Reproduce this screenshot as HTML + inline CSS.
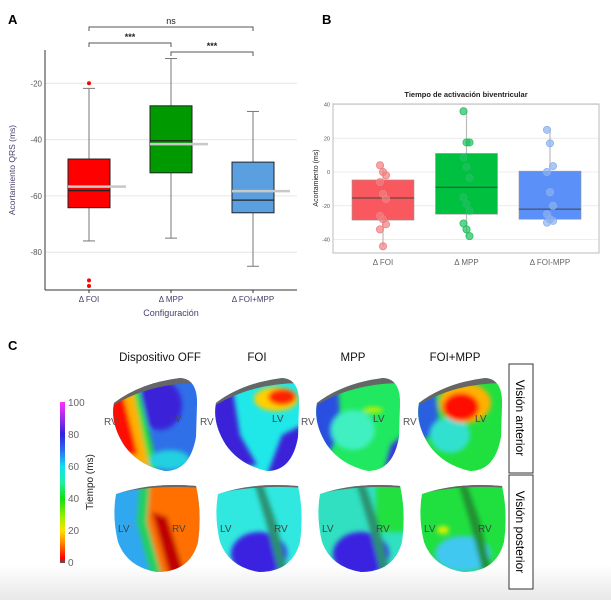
<!DOCTYPE html>
<html><head><meta charset="utf-8">
<style>
body{margin:0;width:611px;height:600px;overflow:hidden;background:#fff;font-family:"Liberation Sans",sans-serif;}
svg{position:absolute;left:0;top:0;}
</style></head>
<body>
<svg id="fig" width="611" height="600" viewBox="0 0 611 600" xmlns="http://www.w3.org/2000/svg">
<defs>
<linearGradient id="bottomfade" x1="0" y1="0" x2="0" y2="1"><stop offset="0" stop-color="#fff"/><stop offset="1" stop-color="#e8e8e8"/></linearGradient>
<linearGradient id="cbar" x1="0" y1="0" x2="0" y2="1">
<stop offset="0" stop-color="#ff30ff"/><stop offset="0.12" stop-color="#8a2be2"/><stop offset="0.2" stop-color="#3020e0"/><stop offset="0.3" stop-color="#2a6cf0"/><stop offset="0.4" stop-color="#10e0f0"/><stop offset="0.5" stop-color="#20f0a0"/><stop offset="0.6" stop-color="#10e010"/><stop offset="0.72" stop-color="#a0f000"/><stop offset="0.8" stop-color="#ffe000"/><stop offset="0.88" stop-color="#ff8000"/><stop offset="0.97" stop-color="#ff0000"/><stop offset="1" stop-color="#555"/>
</linearGradient>
<filter id="blur2"><feGaussianBlur stdDeviation="2.5"/></filter>
<clipPath id="hA"><path d="M4,28 Q30,8 70,3 Q88,4 87,30 L86,62 Q80,96 55,96 Q28,90 14,70 Q0,48 4,28 Z"/></clipPath>
<clipPath id="hP"><path d="M4,12 Q40,0 84,4 Q90,30 86,60 Q78,90 45,90 Q15,85 6,60 Q0,35 4,12 Z"/></clipPath>
</defs>
<rect x="0" y="565" width="611" height="35" fill="url(#bottomfade)"/>

<text x="8" y="24" font-size="13" font-weight="bold">A</text>
<text x="322" y="24" font-size="13" font-weight="bold">B</text>
<text x="8" y="350" font-size="13" font-weight="bold">C</text>

<g id="chartA"></g>
<g id="chartB"></g>

<!-- Panel C -->
<g font-size="11.5" text-anchor="middle" fill="#111">
<text x="160" y="361">Dispositivo OFF</text>
<text x="257" y="361">FOI</text>
<text x="353" y="361">MPP</text>
<text x="455" y="361">FOI+MPP</text>
</g>
<g>
<rect x="60" y="402" width="5" height="161" fill="url(#cbar)"/>
<g font-size="10" fill="#666">
<text x="68" y="406">100</text><text x="68" y="438">80</text><text x="68" y="470">60</text><text x="68" y="502">40</text><text x="68" y="534">20</text><text x="68" y="566">0</text>
</g>
<text transform="translate(93,482) rotate(-90)" font-size="10" text-anchor="middle" fill="#222">Tiempo (ms)</text>
</g>
<g>
<rect x="509" y="364" width="24" height="109" fill="#fff" stroke="#333"/>
<text transform="translate(516,418) rotate(90)" font-size="12" text-anchor="middle">Visión anterior</text>
<rect x="509" y="475" width="24" height="114" fill="#fff" stroke="#333"/>
<text transform="translate(516,532) rotate(90)" font-size="12" text-anchor="middle">Visión posterior</text>
</g>

<!-- anterior hearts -->
<g transform="translate(110,375)">
<g clip-path="url(#hA)"><rect width="90" height="100" fill="#2f70e8"/>
<g filter="url(#blur2)"><ellipse cx="50" cy="30" rx="22" ry="25" fill="#3a20d8"/><path d="M0,20 L22,10 L40,95 L0,95Z" fill="#ffb000"/><path d="M0,20 L12,15 L28,80 L0,80Z" fill="#ff1000"/><path d="M22,10 L28,10 L48,95 L40,95Z" fill="#20e040"/><ellipse cx="60" cy="85" rx="20" ry="10" fill="#20d0e0"/></g>
<path d="M0,0 L90,0 L90,8 Q40,8 4,30Z" fill="#666"/></g>
<text x="-6" y="50" font-size="10" fill="#555">RV</text><text x="60" y="47" font-size="10" fill="#444">LV</text></g>
<g transform="translate(212,375)">
<g clip-path="url(#hA)"><rect width="90" height="100" fill="#20e8e8"/>
<g filter="url(#blur2)"><path d="M0,20 L20,10 L28,60 L45,90 L0,95Z" fill="#3a20d8"/><path d="M70,60 L90,50 L90,100 L55,100Z" fill="#3a20d8"/><ellipse cx="64" cy="24" rx="22" ry="12" fill="#ffd000"/><ellipse cx="70" cy="22" rx="14" ry="8" fill="#ff2000"/></g>
<path d="M0,0 L90,0 L90,8 Q40,8 4,30Z" fill="#666"/></g>
<text x="-12" y="50" font-size="10" fill="#555">RV</text><text x="60" y="47" font-size="10" fill="#444">LV</text></g>
<g transform="translate(313,375)">
<g clip-path="url(#hA)"><rect width="90" height="100" fill="#20e860"/>
<g filter="url(#blur2)"><path d="M0,20 L25,12 L28,55 L15,80 L0,80Z" fill="#2a50e0"/><ellipse cx="40" cy="55" rx="22" ry="20" fill="#40f0c0"/><path d="M78,70 L90,60 L90,100 L70,100Z" fill="#3a30e0"/><ellipse cx="60" cy="35" rx="10" ry="3" fill="#c0f000"/></g>
<path d="M0,0 L90,0 L90,8 Q40,8 4,30Z" fill="#666"/></g>
<text x="-12" y="50" font-size="10" fill="#555">RV</text><text x="60" y="47" font-size="10" fill="#444">LV</text></g>
<g transform="translate(415,375)">
<g clip-path="url(#hA)"><rect width="90" height="100" fill="#20e040"/>
<g filter="url(#blur2)"><path d="M0,25 L20,15 L25,55 L0,70Z" fill="#2a60e0"/><ellipse cx="35" cy="60" rx="20" ry="18" fill="#30e0d0"/><ellipse cx="50" cy="28" rx="26" ry="20" fill="#ffb000"/><ellipse cx="46" cy="32" rx="18" ry="14" fill="#ff1000"/></g>
<path d="M0,0 L90,0 L90,8 Q40,8 4,30Z" fill="#666"/></g>
<text x="-12" y="50" font-size="10" fill="#555">RV</text><text x="60" y="47" font-size="10" fill="#444">LV</text></g>

<!-- posterior hearts -->
<g transform="translate(112,482)">
<g clip-path="url(#hP)"><rect width="90" height="95" fill="#30a8f0"/>
<g filter="url(#blur2)"><path d="M38,0 L90,0 L90,95 L50,95 L35,40Z" fill="#ff7000"/><path d="M40,30 L55,35 L72,90 L58,95Z" fill="#c00000"/><path d="M28,0 L38,0 L35,40 L50,95 L40,95 L25,40Z" fill="#20d060"/></g>
<path d="M0,0 L90,0 L90,6 Q45,2 0,12Z" fill="#666"/></g>
<text x="6" y="50" font-size="10" fill="#444">LV</text><text x="60" y="50" font-size="10" fill="#444">RV</text></g>
<g transform="translate(214,482)">
<g clip-path="url(#hP)"><rect width="90" height="95" fill="#30e8e0"/>
<g filter="url(#blur2)"><ellipse cx="45" cy="72" rx="28" ry="22" fill="#3a20e0"/><path d="M40,0 L48,0 L62,40 L75,95 L66,95 L52,40Z" fill="#2a9070"/></g>
<path d="M0,0 L90,0 L90,6 Q45,2 0,12Z" fill="#666"/></g>
<text x="6" y="50" font-size="10" fill="#444">LV</text><text x="60" y="50" font-size="10" fill="#444">RV</text></g>
<g transform="translate(316,482)">
<g clip-path="url(#hP)"><rect width="90" height="95" fill="#30e0c0"/>
<g filter="url(#blur2)"><rect x="60" y="0" width="30" height="50" fill="#20e040"/><ellipse cx="45" cy="72" rx="28" ry="22" fill="#3a20e0"/><path d="M40,0 L48,0 L62,40 L75,95 L66,95 L52,40Z" fill="#2a9070"/></g>
<path d="M0,0 L90,0 L90,6 Q45,2 0,12Z" fill="#666"/></g>
<text x="6" y="50" font-size="10" fill="#444">LV</text><text x="60" y="50" font-size="10" fill="#444">RV</text></g>
<g transform="translate(418,482)">
<g clip-path="url(#hP)"><rect width="90" height="95" fill="#20e040"/>
<g filter="url(#blur2)"><ellipse cx="45" cy="72" rx="28" ry="18" fill="#40c8f0"/><path d="M40,0 L48,0 L62,40 L75,95 L66,95 L52,40Z" fill="#209030"/><ellipse cx="25" cy="48" rx="6" ry="4" fill="#e0f000"/></g>
<path d="M0,0 L90,0 L90,6 Q45,2 0,12Z" fill="#666"/></g>
<text x="6" y="50" font-size="10" fill="#444">LV</text><text x="60" y="50" font-size="10" fill="#444">RV</text></g>
</svg>
<script>
// ---------- Panel A data ----------
var catsA = ["Δ FOI","Δ MPP","Δ FOI+MPP"];
var q1A = [-64.2,-51.8,-66];
var q3A = [-46.9,-28,-48];
var medA = [-58.1,-40.4,-61.5];
var meanA = [-56.7,-41.6,-58.3];
var whiskLoA = [-76,-75,-85];
var whiskHiA = [-21.8,-11.2,-30];
var outliersA = [[-20,-90,-92],[],[]];
var ticksA = [-20,-40,-60,-80];
var colorsA = ["#ff0000","#009900","#5aa0e0"];
// ---------- Panel B data ----------
var catsB = ["Δ FOI","Δ MPP","Δ FOI-MPP"];
var q1B = [-28.5,-25,-28];
var q3B = [-4.7,11,0.5];
var medB = [-15.4,-9,-22];
var whiskLoB = [-44,-38,-30];
var whiskHiB = [4,36,25];
var ptsB = [[4,0,-2,-6,-13,-16,-26,-28,-31,-34,-44],[36,17.5,17.5,8.5,3,-3.5,-15,-19,-23,-30.5,-34,-38],[25,17,3.5,0,-12,-20,-25,-28,-29,-30]];
var ticksB = [40,20,0,-20,-40];
var colorsB = ["#f8585e","#00c040","#5a90f8"];
var ptColB = ["#f08080","#20c060","#8ab0f0"];

var NS="http://www.w3.org/2000/svg";
function mk(parent,tag,attrs,txt){var e=document.createElementNS(NS,tag);for(var k in attrs)e.setAttribute(k,attrs[k]);if(txt!==undefined)e.textContent=txt;parent.appendChild(e);return e;}

// Panel A
(function(){
var g=document.getElementById('chartA');
function yA(v){return 83.3+(-20-v)*2.815;}
function xA(i){return 89+i*82;}
var L=45,R=297,T=50,B=290;
ticksA.forEach(function(t){
 var gl=mk(g,'line',{x1:L,x2:R,y1:yA(t),y2:yA(t),stroke:'#e6e6e6','stroke-width':1});
 
 
 var tl=mk(g,'text',{x:L-3,y:yA(t)+3,'font-size':8,'text-anchor':'end',fill:'#555'},t);
 
 
});
mk(g,'line',{x1:L,x2:L,y1:T,y2:B,stroke:'#333','stroke-width':1});
mk(g,'line',{x1:L,x2:R,y1:B,y2:B,stroke:'#333','stroke-width':1});
catsA.forEach(function(c,i){
 var x=xA(i),w=42;
 var wh=mk(g,'line',{x1:x,x2:x,y1:yA(whiskHiA[i]),y2:yA(whiskLoA[i]),stroke:'#777','stroke-width':1});
 
 
 mk(g,'line',{x1:x-6,x2:x+6,y1:yA(whiskHiA[i]),y2:yA(whiskHiA[i]),stroke:'#777'});
 mk(g,'line',{x1:x-6,x2:x+6,y1:yA(whiskLoA[i]),y2:yA(whiskLoA[i]),stroke:'#777'});
 var bx=mk(g,'rect',{x:x-w/2,y:yA(q3A[i]),width:w,height:yA(q1A[i])-yA(q3A[i]),fill:colorsA[i],stroke:'#222','stroke-width':1});
 
 
 mk(g,'line',{x1:x-w/2,x2:x+w/2,y1:yA(medA[i]),y2:yA(medA[i]),stroke:'#222','stroke-width':1.3});
 var mn=mk(g,'line',{x1:x-w/2,x2:x+37,y1:yA(meanA[i]),y2:yA(meanA[i]),stroke:'#c8c8c8','stroke-width':2.5});
 
 
 outliersA[i].forEach(function(o){
  var p=mk(g,'circle',{cx:x,cy:yA(o),r:2,fill:'#ff0000'});
  
  
 });
 mk(g,'line',{x1:x,x2:x,y1:B,y2:B+3,stroke:'#333'});
 var xl=mk(g,'text',{x:x,y:B+12,'font-size':8,'text-anchor':'middle',fill:'#4a3d6a'},c);
 
 
});
var xt=mk(g,'text',{x:171,y:316,'font-size':9,'text-anchor':'middle',fill:'#4a3d6a'},'Configuración');


var yt=mk(g,'text',{transform:'translate(15,170) rotate(-90)','font-size':8.5,'text-anchor':'middle',fill:'#4a3d6a'},'Acortamiento QRS (ms)');


function bracket(i,j,y,label){
 mk(g,'path',{d:'M'+xA(i)+','+(y+4)+' V'+y+' H'+xA(j)+' V'+(y+4),fill:'none',stroke:'#555','stroke-width':1});
 var t=mk(g,'text',{x:(xA(i)+xA(j))/2,y:y-3,'font-size':9,'font-weight':label==='ns'?'normal':'bold','text-anchor':'middle',fill:'#222'},label);
 
 
}
bracket(0,2,27,'ns');bracket(0,1,43,'***');bracket(1,2,52,'***');
})();

// Panel B
(function(){
var g=document.getElementById('chartB');
function yB(v){return 172-v*1.6875;}
function xB(i){return 383+i*83.5;}
var L=333,R=599,T=104,B=253;
ticksB.forEach(function(t){
 var gl=mk(g,'line',{x1:L,x2:R,y1:yB(t),y2:yB(t),stroke:'#ececec','stroke-width':1});
 
 
 var tl=mk(g,'text',{x:L-3,y:yB(t)+2,'font-size':5.5,'text-anchor':'end',fill:'#555'},t);
 
 
});
mk(g,'rect',{x:L,y:T,width:R-L,height:B-T,fill:'none',stroke:'#bbb','stroke-width':1});
catsB.forEach(function(c,i){
 var x=xB(i),w=62;
 mk(g,'line',{x1:x,x2:x,y1:yB(whiskHiB[i]),y2:yB(whiskLoB[i]),stroke:'#bbb','stroke-width':1.2});
 var bx=mk(g,'rect',{x:x-w/2,y:yB(q3B[i]),width:w,height:yB(q1B[i])-yB(q3B[i]),fill:colorsB[i],stroke:'#999','stroke-width':0.6});
 
 
 mk(g,'line',{x1:x-w/2,x2:x+w/2,y1:yB(medB[i]),y2:yB(medB[i]),stroke:'#444','stroke-width':1});
 ptsB[i].forEach(function(v,k){
  var dx=((k%3)-1)*3;
  var p=mk(g,'circle',{cx:x+dx,cy:yB(v),r:3.6,fill:ptColB[i],'fill-opacity':0.7,stroke:ptColB[i],'stroke-width':0.8});
  
  
 });
 var xl=mk(g,'text',{x:x,y:B+12,'font-size':8,'text-anchor':'middle',fill:'#666'},c);
 
 
});
var tt=mk(g,'text',{x:466,y:97,'font-size':7.5,'font-weight':'bold','text-anchor':'middle',fill:'#222'},'Tiempo de activación biventricular');


var yt=mk(g,'text',{transform:'translate(318,178) rotate(-90)','font-size':7,'text-anchor':'middle',fill:'#222'},'Acortamiento (ms)');


})();
</script>
</body></html>
